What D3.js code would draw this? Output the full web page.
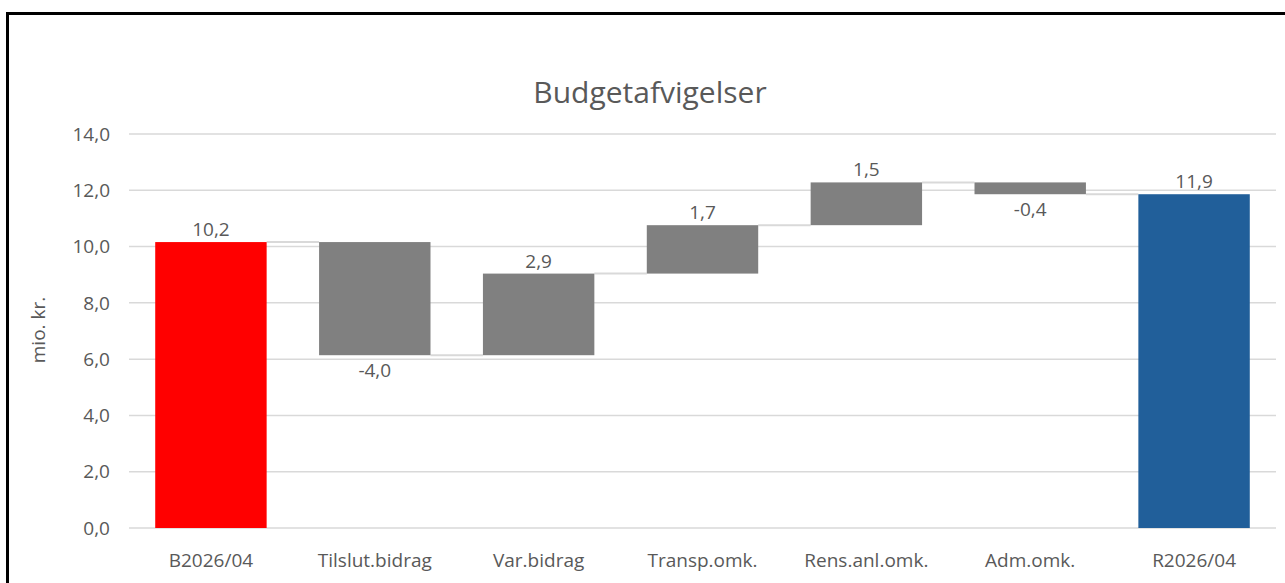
<!DOCTYPE html>
<html>
<head>
<meta charset="utf-8">
<script src="https://cdn.jsdelivr.net/npm/d3@7"></script>
<style>
  body { margin: 0; background: #fff; }
  text { font-family: "Open Sans", "Noto Sans", sans-serif; fill: #595959; }
</style>
</head>
<body>
<div id="chart"></div>
<script>
// categories and values
var categories = ["B2026/04", "Tilslut.bidrag", "Var.bidrag", "Transp.omk.", "Rens.anl.omk.", "Adm.omk.", "R2026/04"];
var startValue = 10.16;
var deltas = [-4.02, 2.9, 1.72, 1.52, -0.42];
var endValue = 11.86;
var yTicks = [0, 2, 4, 6, 8, 10, 12, 14];

var W = 1285, H = 583;
var margin = {top: 134, right: 9, bottom: 55, left: 129};
var width = W - margin.left - margin.right;
var height = H - margin.top - margin.bottom;

var svg = d3.select("#chart").append("svg")
    .attr("width", W)
    .attr("height", H);

// outer frame (runs off the right and bottom edges)
svg.append("rect")
    .attr("x", 7.5).attr("y", 13.5)
    .attr("width", 1300).attr("height", 600)
    .attr("fill", "none")
    .attr("stroke", "#000")
    .attr("stroke-width", 3);

svg.append("text")
    .attr("x", 650).attr("y", 103)
    .attr("text-anchor", "middle")
    .style("font-size", "30px")
    .text("Budgetafvigelser");

var g = svg.append("g")
    .attr("transform", "translate(" + margin.left + "," + margin.top + ")");

// build the waterfall steps
var steps = [];
var running = startValue;
steps.push({name: categories[0], lo: 0, hi: startValue, value: startValue, kind: "start", end: startValue});
deltas.forEach(function(d, i) {
    var from = running;
    running = running + d;
    steps.push({name: categories[i + 1], lo: Math.min(from, running), hi: Math.max(from, running), value: d, kind: "delta", end: running});
});
steps.push({name: categories[categories.length - 1], lo: 0, hi: endValue, value: endValue, kind: "end", end: endValue});

var x = d3.scaleBand()
    .domain(categories)
    .range([0, width])
    .paddingInner(0.32)
    .paddingOuter(0.16);

var y = d3.scaleLinear()
    .domain([0, 14])
    .range([height, 0]);

var fmt = function(v) { return d3.format(".1f")(v).replace(".", ",").replace("−", "-"); };

// gridlines
g.selectAll(".grid")
    .data(yTicks)
    .enter().append("line")
    .attr("class", "grid")
    .attr("x1", 0).attr("x2", width)
    .attr("y1", function(d) { return y(d); })
    .attr("y2", function(d) { return y(d); })
    .attr("stroke", "#d9d9d9")
    .attr("stroke-width", 1.5);

// y tick labels
g.selectAll(".ylab")
    .data(yTicks)
    .enter().append("text")
    .attr("x", -19)
    .attr("y", function(d) { return y(d); })
    .attr("dy", "0.35em")
    .attr("text-anchor", "end")
    .style("font-size", "19px")
    .text(function(d) { return fmt(d); });

svg.append("text")
    .attr("transform", "translate(45,330) rotate(-90)")
    .attr("text-anchor", "middle")
    .style("font-size", "19px")
    .text("mio. kr.");

// connectors
g.selectAll(".conn")
    .data(steps.slice(0, -1))
    .enter().append("line")
    .attr("class", "conn")
    .attr("x1", function(d) { return x(d.name) + x.bandwidth(); })
    .attr("x2", function(d, i) { return x(categories[i + 1]); })
    .attr("y1", function(d) { return y(d.end); })
    .attr("y2", function(d) { return y(d.end); })
    .attr("stroke", "#d9d9d9")
    .attr("stroke-width", 2);

var colors = {start: "#ff0000", delta: "#808080", end: "#215f9a"};

g.selectAll(".bar")
    .data(steps)
    .enter().append("rect")
    .attr("class", "bar")
    .attr("x", function(d) { return x(d.name); })
    .attr("width", x.bandwidth())
    .attr("y", function(d) { return y(d.hi); })
    .attr("height", function(d) { return y(d.lo) - y(d.hi); })
    .attr("fill", function(d) { return colors[d.kind]; });

// value labels: above for positive, below for negative
g.selectAll(".vlab")
    .data(steps)
    .enter().append("text")
    .attr("class", "vlab")
    .attr("x", function(d) { return x(d.name) + x.bandwidth() / 2; })
    .attr("y", function(d) { return d.value < 0 ? y(d.lo) + 22 : y(d.hi) - 6; })
    .attr("text-anchor", "middle")
    .style("font-size", "19px")
    .text(function(d) { return fmt(d.value); });

// category labels
g.selectAll(".xlab")
    .data(categories)
    .enter().append("text")
    .attr("x", function(d) { return x(d) + x.bandwidth() / 2; })
    .attr("y", height + 39)
    .attr("text-anchor", "middle")
    .style("font-size", "19px")
    .text(function(d) { return d; });
</script>
</body>
</html>
